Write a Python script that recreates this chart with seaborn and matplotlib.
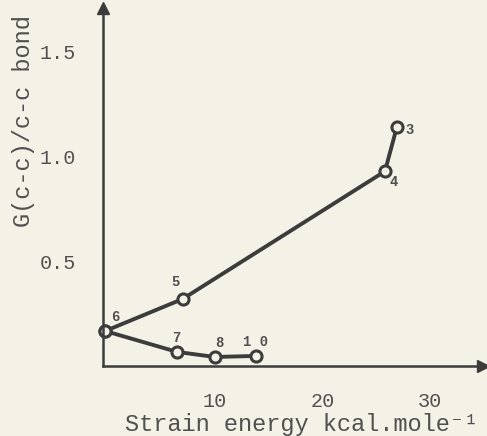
import pandas as pd
import numpy as np
import matplotlib
matplotlib.use("Agg")
import matplotlib.pyplot as plt
import seaborn as sns

# data
upper_x = [-0.2, 7.0, 25.8, 26.9]
upper_y = [0.167, 0.32, 0.93, 1.14]
upper_labels = ["6", "5", "4", "3"]

lower_x = [-0.2, 6.5, 10.0, 13.8]
lower_y = [0.167, 0.067, 0.043, 0.048]
lower_labels = ["", "7", "8", "1 0"]

x_ticks = [10, 20, 30]
y_ticks = [0.5, 1.0, 1.5]

sns.set_theme(style="white")
plt.rcParams["font.family"] = ["Liberation Mono", "DejaVu Sans Mono"]

bg = "#f4f2e6"
ink = "#3c3c3c"
txt = "#505050"

fig = plt.figure(figsize=(4.87, 4.36), dpi=100, facecolor=bg)
ax = fig.add_axes([0.2115, 0.1606, 0.780, 0.821], facecolor=bg)

df_up = pd.DataFrame({"x": upper_x, "y": upper_y})
df_lo = pd.DataFrame({"x": lower_x, "y": lower_y})
for d in (df_up, df_lo):
    sns.lineplot(data=d, x="x", y="y", sort=False, ax=ax, color=ink, lw=2.8,
                 marker="o", markersize=8, markerfacecolor=bg,
                 markeredgecolor=ink, markeredgewidth=2.2, clip_on=False)

# point labels
offsets = {"6": (7, 10), "5": (-5, 12), "4": (6, -8), "3": (9, -2),
           "7": (-1, 10), "8": (3, 10), "1 0": (0, 10)}
for xs, ys, labs in ((upper_x, upper_y, upper_labels), (lower_x, lower_y, lower_labels)):
    for x, y, lab in zip(xs, ys, labs):
        if not lab:
            continue
        dx, dy = offsets[lab]
        ax.annotate(lab, (x, y), xytext=(dx, dy), textcoords="offset points",
                    ha="center", va="center", fontsize=10, fontweight="bold",
                    color=txt)

ax.set_xlim(-0.4, 34.9)
ax.set_ylim(0, 1.71)
ax.set_xticks(x_ticks)
ax.set_yticks(y_ticks)
ax.set_xticklabels([str(t) for t in x_ticks])
ax.set_yticklabels([f"{t:.1f}" for t in y_ticks])
ax.tick_params(axis="both", direction="out", width=1.4, color=ink,
               labelsize=14.5, labelcolor=txt)
ax.tick_params(axis="y", length=11.5, pad=8)
ax.tick_params(axis="x", length=10, pad=9)

for s in ("top", "right"):
    ax.spines[s].set_visible(False)
for s in ("left", "bottom"):
    ax.spines[s].set_color(ink)
    ax.spines[s].set_linewidth(1.8)

# arrow heads at axis ends
ax.plot(1, 0, marker=">", ms=9, color=ink, transform=ax.transAxes, clip_on=False)
ax.plot(0, 1, marker="^", ms=9, color=ink, transform=ax.transAxes, clip_on=False)

ax.set_xlabel("Strain energy kcal.mole\u207b\u00b9", fontsize=17, color=txt)
ax.set_ylabel("G(c-c)/c-c bond", fontsize=17, color=txt)
ax.xaxis.set_label_coords(0.524, -0.132)
ax.yaxis.set_label_coords(-0.18, 0.684)

fig.savefig("out.png", dpi=100, facecolor=bg)
